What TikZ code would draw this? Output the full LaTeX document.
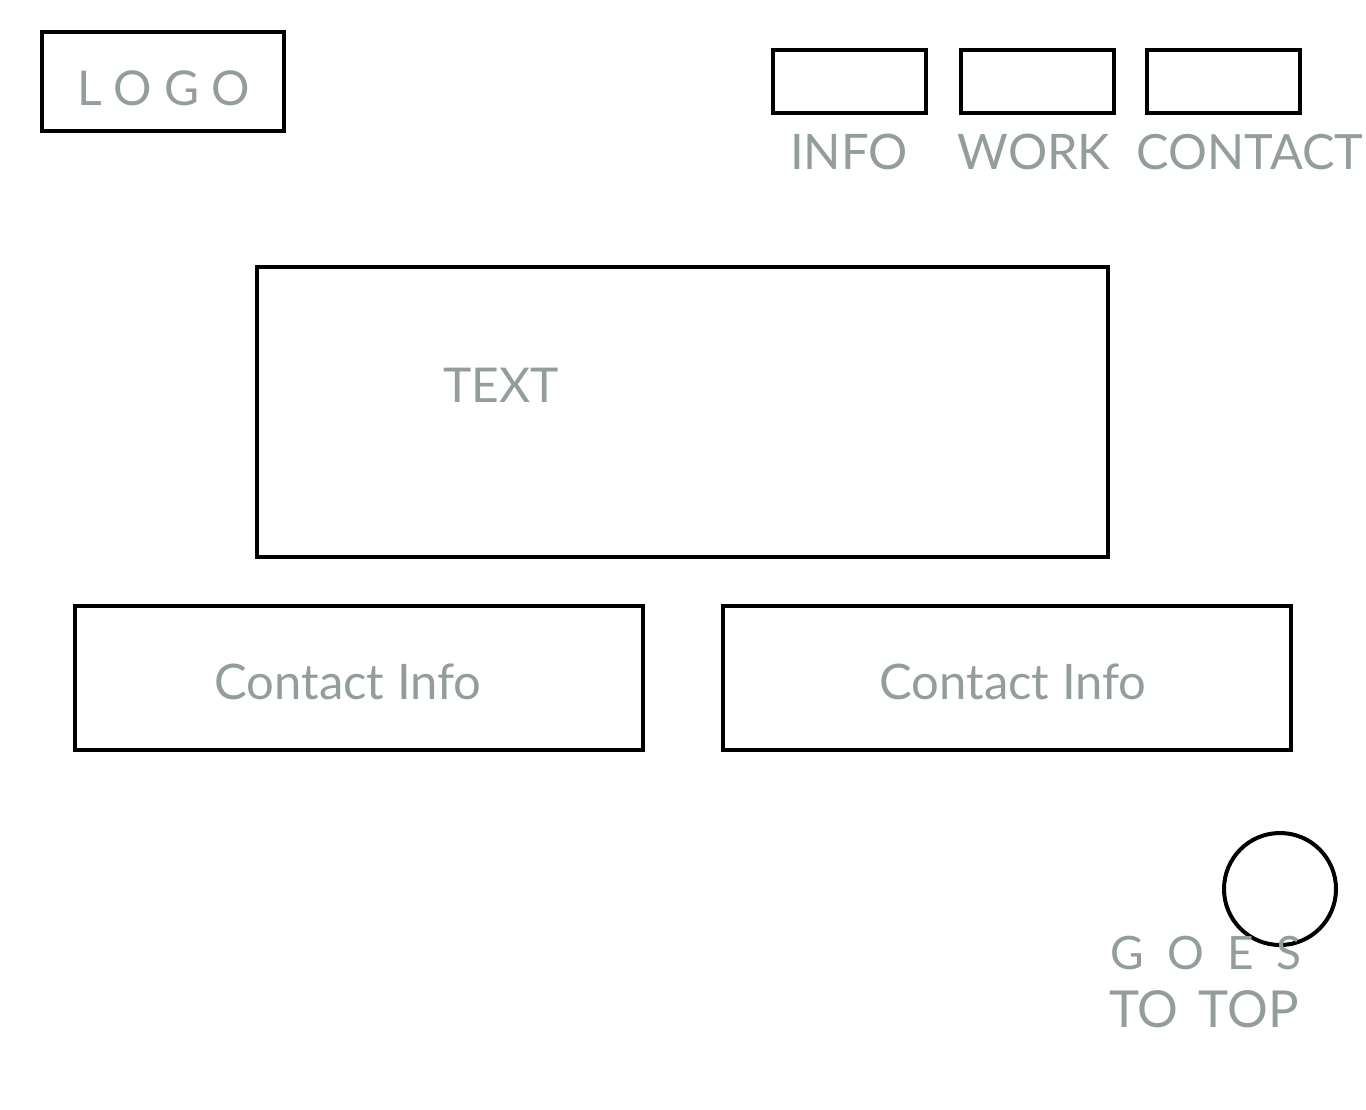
\documentclass[tikz,border=0pt]{standalone}
\usepackage{fontspec}
\setmainfont{Lato}
\newfontfamily\spacedfont[LetterSpace=26]{Lato}
\newfontfamily\widefont[LetterSpace=50]{Lato}
\usepackage{xcolor}
\usepackage{tikz}
\definecolor{labelgray}{RGB}{148,158,152}

\tikzset{
  wirebox/.style={draw=black, line width=2pt, inner sep=0pt},
  wirelabel/.style={text=labelgray, inner sep=0pt}
}

\begin{document}
\begin{tikzpicture}[x=0.5pt, y=-0.5pt]
            \useasboundingbox (0,0) rectangle (1366,1109);

            % Logo box
            \draw[wirebox] (42,32) rectangle (284,131);
            \node[wirelabel, font=\spacedfont\fontsize{24}{24}\selectfont] (logo) at (164,88) {LOGO};

            % Navigation boxes
            \draw[wirebox] (773,50) rectangle (926,113);
            \draw[wirebox] (961,50) rectangle (1114,113);
            \draw[wirebox] (1147,50) rectangle (1300,113);
            \node[wirelabel, font=\fontsize{24.5}{24.5}\selectfont] (info) at (849,152) {INFO};
            \node[wirelabel, font=\fontsize{24.5}{24.5}\selectfont] (work) at (1034,152) {WORK};
            \node[wirelabel, font=\fontsize{24.3}{24.3}\selectfont] (contact) at (1250,152) {CONTACT};

            % Main text box
            \draw[wirebox] (257,267) rectangle (1108,557);
            \node[wirelabel, font=\fontsize{24}{24}\selectfont] (maintext) at (501,385) {TEXT};

            % Contact boxes
            \draw[wirebox] (75,606) rectangle (643,750);
            \draw[wirebox] (723,606) rectangle (1291,750);
            \node[wirelabel, font=\fontsize{24.5}{24.5}\selectfont] (contactleft) at (348,682) {Contact Info};
            \node[wirelabel, font=\fontsize{24.5}{24.5}\selectfont] (contactright) at (1013,682) {Contact Info};

            % Back to top button
            \draw[black, line width=2pt] (1280,889) circle (56);
            \node[wirelabel, font=\widefont\fontsize{23}{23}\selectfont] (goes) at (1206,953) {GOES};
            \node[wirelabel, font=\fontsize{25.5}{25.5}\selectfont] (totop) at (1204,1009) {TO\hspace{0.4em}TOP};
        \end{tikzpicture}
\end{document}
